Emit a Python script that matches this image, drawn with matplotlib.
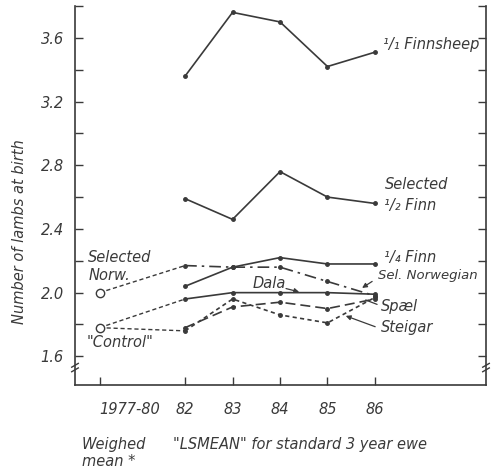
import matplotlib.pyplot as plt

# x positions: the 1977-80 weighed mean sits a bit left of 82
x_years = [82, 83, 84, 85, 86]
x_base = 80.2
tick_pos = [80.2, 82, 83, 84, 85, 86]
tick_labels = ["1977-80", "82", "83", "84", "85", "86"]

finn_1_1 = [3.36, 3.76, 3.70, 3.42, 3.51]
finn_1_2 = [2.59, 2.46, 2.76, 2.60, 2.56]
finn_1_4 = [2.04, 2.16, 2.22, 2.18, 2.18]
sel_norw = [2.17, 2.16, 2.16, 2.07, 1.98]
dala = [1.96, 2.00, 2.00, 2.00, 1.99]
spael = [1.78, 1.91, 1.94, 1.90, 1.96]
steigar = [1.76, 1.96, 1.86, 1.81, 1.97]

base_sel_norw = 2.0
base_control = 1.78

ink = "#3a3a3a"
plt.rcParams["font.family"] = "DejaVu Sans"
plt.rcParams["font.style"] = "italic"

fig = plt.figure(figsize=(4.91, 4.70), dpi=100)
ax = fig.add_axes([75/491, 1-385/470, (486-75)/491, (385-6)/470])

lw = 1.2
ms = 2.5
ax.plot(x_years, finn_1_1, "-o", color=ink, lw=lw, ms=ms)
ax.plot(x_years, finn_1_2, "-o", color=ink, lw=lw, ms=ms)
ax.plot(x_years, finn_1_4, "-o", color=ink, lw=lw, ms=ms)
ax.plot(x_years, dala, "-o", color=ink, lw=lw, ms=ms)
ax.plot(x_years, sel_norw, "-.", marker="o", color=ink, lw=lw, ms=ms, dashes=(7, 3, 1.5, 3))
ax.plot(x_years, spael, "--", marker="o", color=ink, lw=lw, ms=ms, dashes=(6, 3))
ax.plot(x_years, steigar, "--", marker="o", color=ink, lw=lw, ms=ms, dashes=(2.5, 2))

# dashed connectors from the weighed means
ax.plot([x_base, x_years[0]], [base_sel_norw, sel_norw[0]], "--", color=ink, lw=1.0, dashes=(3, 2))
ax.plot([x_base, x_years[0]], [base_control, dala[0]], "--", color=ink, lw=1.0, dashes=(3, 2))
ax.plot([x_base, x_years[0]], [base_control, steigar[0]], "--", color=ink, lw=1.0, dashes=(3, 2))
ax.plot([x_base, x_base], [base_sel_norw, base_control], "o", mfc="white", mec=ink, ms=6, mew=1.0)

ax.set_xlim(79.68, 88.34)
ax.set_ylim(1.42, 3.8)
ax.set_xticks(tick_pos)
ax.set_xticklabels(tick_labels)
ax.set_yticks([1.6 + 0.2*i for i in range(12)])
ax.set_yticklabels(["1.6", "", "2.0", "", "2.4", "", "2.8", "", "3.2", "", "3.6", ""])
ax.tick_params(direction="in", length=6, width=1.0, colors=ink, labelsize=10.5, pad=6)
ax.tick_params(axis="y", right=True, pad=8)
ax.tick_params(axis="x", pad=12)
lab0 = ax.get_xticklabels()[0]
lab0.set_horizontalalignment("left")
lab0.set_x(79.92)
ax.spines["top"].set_visible(False)
for s in ["left", "right", "bottom"]:
    ax.spines[s].set_color(ink)
    ax.spines[s].set_linewidth(1.2)

# axis break marks
for xb in [0, 1]:
    for dy in [0, 0.012]:
        ax.plot([xb-0.008, xb+0.008], [0.035+dy, 0.045+dy], transform=ax.transAxes,
                color=ink, lw=1.0, clip_on=False)

fs = 10.5
ax.text(86.17, 3.56, "¹/₁ Finnsheep", color=ink, fontsize=fs, va="center")
ax.text(86.2, 2.68, "Selected", color=ink, fontsize=fs, va="center")
ax.text(86.2, 2.55, "¹/₂ Finn", color=ink, fontsize=fs, va="center")
ax.text(86.2, 2.22, "¹/₄ Finn", color=ink, fontsize=fs, va="center")
ax.text(86.06, 2.11, "Sel. Norwegian", color=ink, fontsize=fs - 1, va="center")
ax.text(86.13, 1.91, "Spæl", color=ink, fontsize=fs, va="center")
ax.text(86.13, 1.78, "Steigar", color=ink, fontsize=fs, va="center")
ax.text(83.43, 2.06, "Dala", color=ink, fontsize=fs, va="center")
ax.text(79.96, 2.22, "Selected", color=ink, fontsize=fs, va="center")
ax.text(79.96, 2.11, "Norw.", color=ink, fontsize=fs, va="center")
ax.text(79.92, 1.69, "\"Control\"", color=ink, fontsize=fs, va="center")

arw = dict(arrowstyle="-|>", color=ink, lw=0.9, mutation_scale=7)
ax.annotate("", xy=(84.46, 2.0), xytext=(84.07, 2.03), arrowprops=arw)
ax.annotate("", xy=(85.68, 2.02), xytext=(85.99, 2.08), arrowprops=arw)
ax.annotate("", xy=(85.75, 1.96), xytext=(86.1, 1.92), arrowprops=dict(arrowstyle="-", color=ink, lw=0.9))
ax.annotate("", xy=(85.33, 1.86), xytext=(86.06, 1.78), arrowprops=arw)

fig.text(20/491, 1-232/470, "Number of lambs at birth", rotation=90, color=ink,
         fontsize=fs, va="center", ha="center")
fig.text(82/491, 1-444/470, "Weighed", color=ink, fontsize=fs, va="center")
fig.text(82/491, 1-462/470, "mean *", color=ink, fontsize=fs, va="center")
fig.text(173/491, 1-445/470, "\"LSMEAN\" for standard 3 year ewe", color=ink, fontsize=fs, va="center")

fig.savefig("out.png", dpi=100)
